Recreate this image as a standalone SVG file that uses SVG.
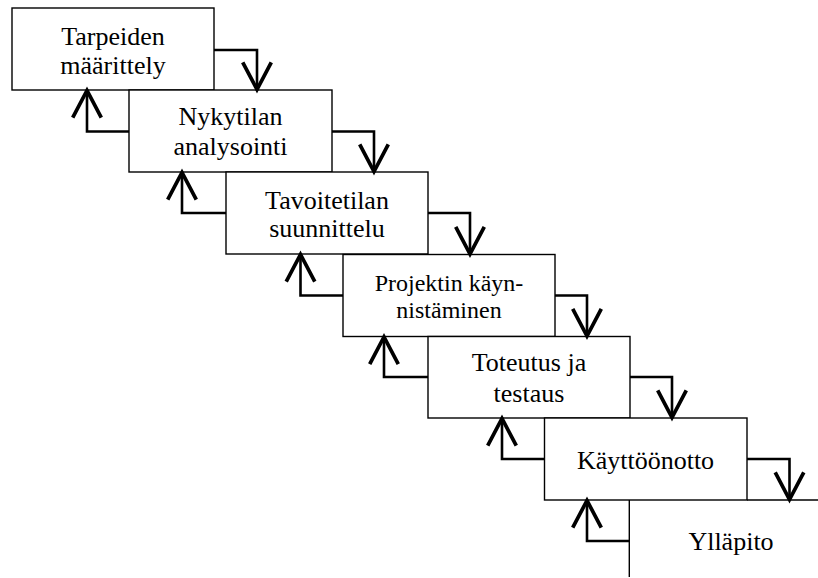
<svg xmlns="http://www.w3.org/2000/svg" width="818" height="578" viewBox="0 0 818 578">
  <style>
    .box { fill: #ffffff; stroke: #000000; stroke-width: 1.4; }
    .label { font-family: "Liberation Serif", "Times New Roman", serif; font-size: 26px; fill: #000000; text-anchor: middle; }
    .small { font-size: 24px; }
    .flow { fill: none; stroke: #000000; stroke-width: 2.6; marker-end: url(#head); }
    .rule { fill: none; stroke: #000000; stroke-width: 1.4; }
  </style>
  <defs>
    <!-- open V arrowhead -->
    <marker id="head" markerUnits="userSpaceOnUse" markerWidth="40" markerHeight="40" viewBox="-22 -14 26 28" refX="0" refY="0" orient="auto" overflow="visible">
      <path d="M-19,-10 L0,0 L-19,10" fill="none" stroke="#000000" stroke-width="2.6" stroke-linejoin="miter"/>
    </marker>
  </defs>
  <rect width="818" height="578" fill="#ffffff"/>

  <g id="node-tarpeiden">
    <rect class="box" x="12" y="8" width="202" height="82"/>
    <text class="label" x="113" y="45">Tarpeiden</text>
    <text class="label" x="113" y="74">määrittely</text>
  </g>

  <g id="node-nykytila">
    <rect class="box" x="129" y="90" width="203" height="82"/>
    <text class="label" x="230.5" y="124.5">Nykytilan</text>
    <text class="label" x="230.5" y="155">analysointi</text>
  </g>

  <g id="node-tavoitetila">
    <rect class="box" x="226" y="172" width="202" height="82"/>
    <text class="label" x="327" y="208.5">Tavoitetilan</text>
    <text class="label" x="327" y="237">suunnittelu</text>
  </g>

  <g id="node-projekti">
    <rect class="box" x="343" y="254.5" width="212" height="82"/>
    <text class="label small" x="449" y="291">Projektin käyn-</text>
    <text class="label small" x="449" y="318">nistäminen</text>
  </g>

  <g id="node-toteutus">
    <rect class="box" x="428" y="336.5" width="202" height="81.5"/>
    <text class="label" x="529" y="371">Toteutus ja</text>
    <text class="label" x="529" y="402">testaus</text>
  </g>

  <g id="node-kayttoonotto">
    <rect class="box" x="544.5" y="418" width="202.5" height="82"/>
    <text class="label" x="645.5" y="469">Käyttöönotto</text>
  </g>

  <g id="node-yllapito">
    <line class="rule" x1="747" y1="500" x2="818" y2="500"/>
    <line class="rule" x1="629.3" y1="500" x2="629.3" y2="577"/>
    <text class="label" x="731" y="550">Ylläpito</text>
  </g>

  <g id="connectors">
    <!-- forward steps -->
    <polyline class="flow" points="214,50 257,50 257,89.5"/>
    <polyline class="flow" points="332,131.5 374,131.5 374,171.5"/>
    <polyline class="flow" points="428,213 470,213 470,254"/>
    <polyline class="flow" points="555,295.5 587,295.5 587,336"/>
    <polyline class="flow" points="630,377 672,377 672,417.5"/>
    <polyline class="flow" points="747,459 789.5,459 789.5,499.5"/>
    <!-- feedback steps -->
    <polyline class="flow" points="129,131.5 87,131.5 87,90.5"/>
    <polyline class="flow" points="226,213 182,213 182,172.5"/>
    <polyline class="flow" points="343,295.5 300.5,295.5 300.5,254.5"/>
    <polyline class="flow" points="428,377 384,377 384,337"/>
    <polyline class="flow" points="544.5,459 502,459 502,418.5"/>
    <polyline class="flow" points="629.3,541 587,541 587,500.5"/>
  </g>
</svg>
